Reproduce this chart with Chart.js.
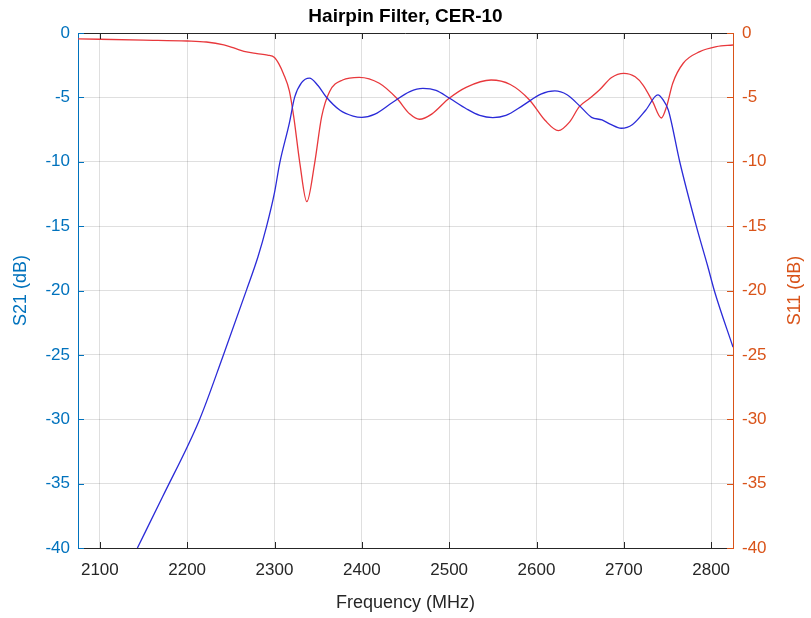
<!DOCTYPE html>
<html>
<head>
<meta charset="utf-8">
<script src="https://cdn.jsdelivr.net/npm/chart.js@4.4.0/dist/chart.umd.min.js"></script>
<style>
  html, body { margin: 0; padding: 0; background: #fff; }
  #wrap { width: 811px; height: 618px; }
</style>
</head>
<body>
<div id="wrap"><canvas id="chart"></canvas></div>
<script>
// frequency axis ticks (MHz) and dB ticks
const freqTicks = [2100, 2200, 2300, 2400, 2500, 2600, 2700, 2800];
const dbTicks = [0, -5, -10, -15, -20, -25, -30, -35, -40];

// S21: [MHz, dB]
const s21Freq = [2143, 2172, 2214, 2241, 2268, 2281, 2291, 2300, 2306, 2317, 2323, 2331, 2340, 2350, 2359,
  2375, 2390, 2400, 2415, 2435, 2455, 2470, 2485, 2500, 2520, 2535, 2550, 2565, 2585, 2605, 2621, 2635,
  2650, 2663, 2675, 2685, 2697, 2710, 2725, 2739, 2745, 2751, 2764, 2783, 2796, 2804, 2825];
const s21Db = [-40, -36.0, -30.05, -25.1, -19.95, -17.4, -15.0, -12.4, -10.1, -7.0, -5.0, -3.85, -3.5, -4.1, -4.95,
  -6.0, -6.45, -6.55, -6.3, -5.4, -4.55, -4.3, -4.45, -5.05, -5.9, -6.4, -6.57, -6.4, -5.6, -4.75, -4.5, -4.8,
  -5.7, -6.55, -6.75, -7.1, -7.4, -7.1, -6.0, -4.81, -5.2, -6.0, -10.0, -15.0, -18.1, -20.1, -24.4];

// S11
const s11Freq = [2075, 2150, 2200, 2222, 2242, 2255, 2265, 2280, 2292, 2300, 2305, 2310, 2317, 2322, 2329, 2337, 2346, 2354, 2363,
  2378, 2397, 2420, 2440, 2455, 2466, 2480, 2500, 2520, 2548, 2570, 2592, 2610, 2625, 2638, 2649, 2661,
  2672, 2686, 2700, 2713, 2722, 2733, 2743, 2749, 2756, 2768, 2787, 2806, 2825];
const s11Db = [-0.45, -0.55, -0.62, -0.7, -0.93, -1.2, -1.42, -1.6, -1.72, -1.9, -2.4, -3.13, -4.5, -6.5, -10.1, -13.1, -10.1, -6.5, -4.56,
  -3.65, -3.44, -3.9, -5.07, -6.3, -6.7, -6.3, -5.07, -4.2, -3.65, -4.0, -5.2, -6.8, -7.58, -6.9, -5.72, -5.07,
  -4.43, -3.45, -3.13, -3.4, -4.04, -5.33, -6.6, -5.7, -3.9, -2.35, -1.45, -1.06, -0.93];

const BLUE_AX = '#0072BD';
const ORANGE_AX = '#D95319';
const DARK = '#262626';
const FONT = 'Liberation Sans, Arial, sans-serif';

function toPoints(xs, ys) {
    return xs.map((x, i) => ({ x: x, y: ys[i] }));
}

// MATLAB-style inward ticks, the top box line and the right axis title
const boxTicks = {
    id: 'boxTicks',
    afterDraw(chart) {
        const { ctx, chartArea: a } = chart;
        const xs = chart.scales.x, yl = chart.scales.y, yr = chart.scales.y2;
        const len = 6;
        ctx.save();
        ctx.lineWidth = 1;
        ctx.strokeStyle = DARK;
        ctx.beginPath();
        ctx.moveTo(a.left, a.top + 0.5);
        ctx.lineTo(a.right, a.top + 0.5);
        freqTicks.forEach(v => {
            const px = Math.round(xs.getPixelForValue(v)) + 0.5;
            ctx.moveTo(px, a.bottom);
            ctx.lineTo(px, a.bottom - len);
            ctx.moveTo(px, a.top);
            ctx.lineTo(px, a.top + len);
        });
        ctx.stroke();
        ctx.strokeStyle = BLUE_AX;
        ctx.beginPath();
        dbTicks.forEach(v => {
            const py = Math.round(yl.getPixelForValue(v)) + 0.5;
            ctx.moveTo(a.left, py);
            ctx.lineTo(a.left + len, py);
        });
        ctx.stroke();
        ctx.strokeStyle = ORANGE_AX;
        ctx.beginPath();
        dbTicks.forEach(v => {
            const py = Math.round(yr.getPixelForValue(v)) + 0.5;
            ctx.moveTo(a.right, py);
            ctx.lineTo(a.right - len, py);
        });
        ctx.stroke();

        // right title reads bottom-to-top like the left one
        ctx.translate(yr.right - 16, (a.top + a.bottom) / 2);
        ctx.rotate(-Math.PI / 2);
        ctx.fillStyle = ORANGE_AX;
        ctx.font = '18px ' + FONT;
        ctx.textAlign = 'center';
        ctx.textBaseline = 'middle';
        ctx.fillText('S11 (dB)', 0, 0);
        ctx.restore();
    }
};

new Chart(document.getElementById('chart'), {
    type: 'scatter',
    data: {
        datasets: [{
            label: 'S21',
            data: toPoints(s21Freq, s21Db),
            yAxisID: 'y',
            showLine: true,
            borderColor: '#2b2bd8',
            borderWidth: 1.3,
            pointRadius: 0,
            cubicInterpolationMode: 'monotone'
        }, {
            label: 'S11',
            data: toPoints(s11Freq, s11Db),
            yAxisID: 'y2',
            showLine: true,
            borderColor: '#e8383c',
            borderWidth: 1.3,
            pointRadius: 0,
            cubicInterpolationMode: 'monotone'
        }]
    },
    options: {
        responsive: true,
        maintainAspectRatio: false,
        animation: false,
        layout: { padding: 0 },
        scales: {
            x: {
                type: 'linear',
                min: 2075,
                max: 2825,
                afterBuildTicks: s => { s.ticks = freqTicks.map(v => ({ value: v })); },
                afterFit: s => { s.height = 70; },
                border: { color: DARK, width: 1 },
                grid: { color: 'rgba(38,38,38,0.15)', drawTicks: false },
                ticks: { color: DARK, padding: 12, font: { family: FONT, size: 17 },
                         callback: v => String(v) },
                title: { display: true, text: 'Frequency (MHz)', color: DARK,
                         font: { family: FONT, size: 18 }, padding: { top: 2, bottom: 4 } }
            },
            y: {
                position: 'left',
                min: -40,
                max: 0,
                afterBuildTicks: s => { s.ticks = dbTicks.map(v => ({ value: v })); },
                afterFit: s => { s.width = 78; },
                border: { color: BLUE_AX, width: 1 },
                grid: { color: 'rgba(38,38,38,0.15)', drawTicks: false },
                ticks: { color: BLUE_AX, padding: 8, font: { family: FONT, size: 17 },
                         callback: v => String(v) },
                title: { display: true, text: 'S21 (dB)', color: BLUE_AX,
                         font: { family: FONT, size: 18 }, padding: { top: 10, bottom: 10 } }
            },
            y2: {
                position: 'right',
                min: -40,
                max: 0,
                afterBuildTicks: s => { s.ticks = dbTicks.map(v => ({ value: v })); },
                afterFit: s => { s.width = 78; },
                border: { color: ORANGE_AX, width: 1 },
                grid: { display: false, drawTicks: false },
                ticks: { color: ORANGE_AX, padding: 9, font: { family: FONT, size: 17 },
                         callback: v => String(v) }
            }
        },
        plugins: {
            legend: { display: false },
            tooltip: { enabled: false },
            title: {
                display: true,
                text: 'Hairpin Filter, CER-10',
                color: '#000',
                font: { family: FONT, size: 19, weight: 'bold' },
                padding: { top: 5, bottom: 5.2 }
            }
        }
    },
    plugins: [boxTicks]
});
</script>
</body>
</html>
